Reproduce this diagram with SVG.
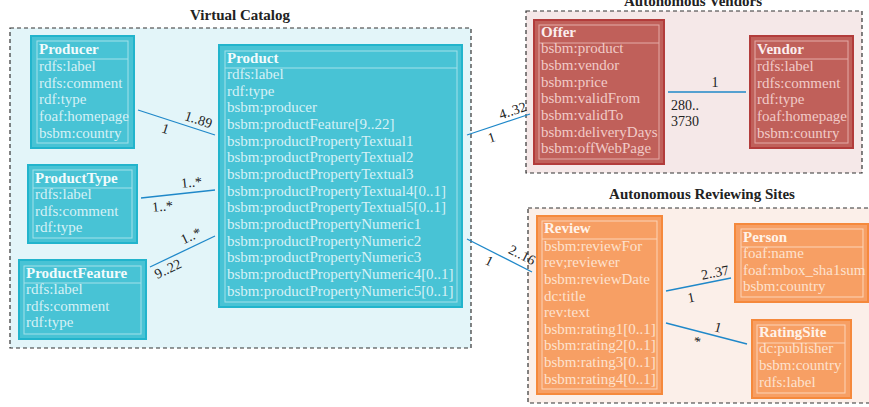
<svg xmlns="http://www.w3.org/2000/svg" width="869" height="407" viewBox="0 0 869 407">
<style>
text{font-family:"Liberation Serif","Times New Roman",serif;}
.title{font-size:15px;font-weight:bold;fill:#222;text-anchor:middle;}
.cont{stroke:#333;stroke-width:1.2;stroke-dasharray:4,3;}
.c-out{fill:#48c3d5;stroke:#22b4cc;stroke-width:2;}
.c-in{fill:none;stroke:#a3e1ea;stroke-width:1;}
.c-t{font-size:15px;fill:#d6f1f5;}
.c-h{font-size:15px;font-weight:bold;fill:#f2fbfc;}
.r-out{fill:#c0605a;stroke:#b23c3b;stroke-width:2;}
.r-in{fill:none;stroke:#e4aba7;stroke-width:1;}
.r-t{font-size:15px;fill:#f1cbc8;}
.r-h{font-size:15px;font-weight:bold;fill:#fbeeee;}
.o-out{fill:#f79f64;stroke:#f5893c;stroke-width:2;}
.o-in{fill:none;stroke:#fcd4b8;stroke-width:1;}
.o-t{font-size:15px;fill:#fde2cf;}
.o-h{font-size:15px;font-weight:bold;fill:#fff3ea;}
.ln{stroke:#1f88c9;stroke-width:1.3;fill:none;}
.lb{font-size:14px;fill:#222;text-anchor:middle;}
.lbl{font-size:14px;fill:#222;}
</style>

<g id="containers">
<rect class="cont" x="10" y="28" width="461" height="320" fill="#e3f5f9"/>
<text class="title" x="240" y="20">Virtual Catalog</text>
<rect class="cont" x="526" y="11" width="336" height="162" fill="#f5e8e8"/>
<text class="title" x="693" y="6">Autonomous Vendors</text>
<rect class="cont" x="528" y="208" width="350" height="195" fill="#fbefe9"/>
<text class="title" x="702" y="199">Autonomous Reviewing Sites</text>
</g>

<g id="connectors">
<line class="ln" x1="138" y1="110" x2="215" y2="135"/>
<text class="lb" transform="translate(197,124) rotate(18)">1..89</text>
<text class="lb" transform="translate(164,133) rotate(18)">1</text>
<line class="ln" x1="141" y1="198" x2="215" y2="190"/>
<text class="lb" transform="translate(192,187) rotate(-6)">1..*</text>
<text class="lb" transform="translate(163,211) rotate(-6)">1..*</text>
<line class="ln" x1="150" y1="267" x2="215" y2="236"/>
<text class="lb" transform="translate(193,240) rotate(-25.5)">1..*</text>
<text class="lb" transform="translate(170,273) rotate(-25.5)">9..22</text>
<line class="ln" x1="467" y1="135" x2="530" y2="114"/>
<text class="lb" transform="translate(514,115) rotate(-18.4)">4..32</text>
<text class="lb" transform="translate(493,142) rotate(-18.4)">1</text>
<line class="ln" x1="467" y1="239" x2="532" y2="272"/>
<text class="lb" transform="translate(520,259) rotate(26.9)">2..16</text>
<text class="lb" transform="translate(487,265) rotate(26.9)">1</text>
<line class="ln" x1="668" y1="92" x2="746" y2="92"/>
<text class="lb" x="715" y="87">1</text>
<text class="lbl" x="671" y="110">280..</text>
<text class="lbl" x="671" y="126">3730</text>
<line class="ln" x1="666" y1="291" x2="731" y2="278"/>
<text class="lb" transform="translate(716,277) rotate(-11.3)">2..37</text>
<text class="lb" transform="translate(692,302) rotate(-11.3)">1</text>
<line class="ln" x1="666" y1="323" x2="747" y2="344"/>
<text class="lb" transform="translate(717,332) rotate(14.5)">1</text>
<text class="lb" transform="translate(696,346) rotate(14.5)">*</text>
</g>

<g id="producer">
<rect class="c-out" x="31" y="36" width="103" height="112"/>
<rect class="c-in" x="37" y="41" width="91" height="102"/>
<line class="c-in" x1="37" y1="59" x2="128" y2="59"/>
<text class="c-h" x="39" y="54">Producer</text>
<text class="c-t" x="39" y="71">rdfs:label</text>
<text class="c-t" x="39" y="88">rdfs:comment</text>
<text class="c-t" x="39" y="104">rdf:type</text>
<text class="c-t" x="39" y="121">foaf:homepage</text>
<text class="c-t" x="39" y="138">bsbm:country</text>
</g>

<g id="producttype">
<rect class="c-out" x="28" y="165" width="109" height="78"/>
<rect class="c-in" x="33" y="170" width="99" height="68"/>
<line class="c-in" x1="33" y1="188" x2="132" y2="188"/>
<text class="c-h" x="35" y="183">ProductType</text>
<text class="c-t" x="35" y="199">rdfs:label</text>
<text class="c-t" x="35" y="216">rdfs:comment</text>
<text class="c-t" x="35" y="232">rdf:type</text>
</g>

<g id="productfeature">
<rect class="c-out" x="19" y="260" width="127" height="79"/>
<rect class="c-in" x="24" y="266" width="117" height="68"/>
<line class="c-in" x1="24" y1="283" x2="141" y2="283"/>
<text class="c-h" x="26" y="278">ProductFeature</text>
<text class="c-t" x="26" y="294">rdfs:label</text>
<text class="c-t" x="26" y="311">rdfs:comment</text>
<text class="c-t" x="26" y="327">rdf:type</text>
</g>

<g id="product">
<rect class="c-out" x="219" y="45" width="243" height="262"/>
<rect class="c-in" x="225" y="51" width="232" height="251"/>
<line class="c-in" x1="225" y1="68" x2="457" y2="68"/>
<text class="c-h" x="227" y="63">Product</text>
<text class="c-t" x="227" y="79">rdfs:label</text>
<text class="c-t" x="227" y="96">rdf:type</text>
<text class="c-t" x="227" y="112">bsbm:producer</text>
<text class="c-t" x="227" y="129">bsbm:productFeature[9..22]</text>
<text class="c-t" x="227" y="146">bsbm:productPropertyTextual1</text>
<text class="c-t" x="227" y="162">bsbm:productPropertyTextual2</text>
<text class="c-t" x="227" y="179">bsbm:productPropertyTextual3</text>
<text class="c-t" x="227" y="196">bsbm:productPropertyTextual4[0..1]</text>
<text class="c-t" x="227" y="212">bsbm:productPropertyTextual5[0..1]</text>
<text class="c-t" x="227" y="229">bsbm:productPropertyNumeric1</text>
<text class="c-t" x="227" y="246">bsbm:productPropertyNumeric2</text>
<text class="c-t" x="227" y="262">bsbm:productPropertyNumeric3</text>
<text class="c-t" x="227" y="279">bsbm:productPropertyNumeric4[0..1]</text>
<text class="c-t" x="227" y="296">bsbm:productPropertyNumeric5[0..1]</text>
</g>

<g id="offer">
<rect class="r-out" x="534" y="20" width="130" height="144"/>
<rect class="r-in" x="539" y="25" width="120" height="134"/>
<line class="r-in" x1="539" y1="43" x2="659" y2="43"/>
<text class="r-h" x="541" y="37">Offer</text>
<text class="r-t" x="541" y="53">bsbm:product</text>
<text class="r-t" x="541" y="70">bsbm:vendor</text>
<text class="r-t" x="541" y="87">bsbm:price</text>
<text class="r-t" x="541" y="103">bsbm:validFrom</text>
<text class="r-t" x="541" y="120">bsbm:validTo</text>
<text class="r-t" x="541" y="137">bsbm:deliveryDays</text>
<text class="r-t" x="541" y="153">bsbm:offWebPage</text>
</g>

<g id="vendor">
<rect class="r-out" x="750" y="36" width="103" height="112"/>
<rect class="r-in" x="755" y="41" width="93" height="102"/>
<line class="r-in" x1="755" y1="59" x2="848" y2="59"/>
<text class="r-h" x="757" y="54">Vendor</text>
<text class="r-t" x="757" y="71">rdfs:label</text>
<text class="r-t" x="757" y="88">rdfs:comment</text>
<text class="r-t" x="757" y="104">rdf:type</text>
<text class="r-t" x="757" y="121">foaf:homepage</text>
<text class="r-t" x="757" y="138">bsbm:country</text>
</g>

<g id="review">
<rect class="o-out" x="537" y="216" width="125" height="178"/>
<rect class="o-in" x="542" y="221" width="115" height="168"/>
<line class="o-in" x1="542" y1="239" x2="657" y2="239"/>
<text class="o-h" x="544" y="233">Review</text>
<text class="o-t" x="544" y="251">bsbm:reviewFor</text>
<text class="o-t" x="544" y="267">rev;reviewer</text>
<text class="o-t" x="544" y="284">bsbm:reviewDate</text>
<text class="o-t" x="544" y="301">dc:title</text>
<text class="o-t" x="544" y="317">rev:text</text>
<text class="o-t" x="544" y="334">bsbm:rating1[0..1]</text>
<text class="o-t" x="544" y="350">bsbm:rating2[0..1]</text>
<text class="o-t" x="544" y="367">bsbm:rating3[0..1]</text>
<text class="o-t" x="544" y="384">bsbm:rating4[0..1]</text>
</g>

<g id="person">
<rect class="o-out" x="735" y="224" width="133" height="78"/>
<rect class="o-in" x="741" y="229" width="122" height="68"/>
<line class="o-in" x1="741" y1="247" x2="863" y2="247"/>
<text class="o-h" x="743" y="242">Person</text>
<text class="o-t" x="743" y="258">foaf:name</text>
<text class="o-t" x="743" y="275">foaf:mbox_sha1sum</text>
<text class="o-t" x="743" y="291">bsbm:country</text>
</g>

<g id="ratingsite">
<rect class="o-out" x="752" y="320" width="99" height="78"/>
<rect class="o-in" x="757" y="325" width="88" height="68"/>
<line class="o-in" x1="757" y1="343" x2="845" y2="343"/>
<text class="o-h" x="759" y="337">RatingSite</text>
<text class="o-t" x="759" y="353">dc:publisher</text>
<text class="o-t" x="759" y="370">bsbm:country</text>
<text class="o-t" x="759" y="387">rdfs:label</text>
</g>
</svg>
